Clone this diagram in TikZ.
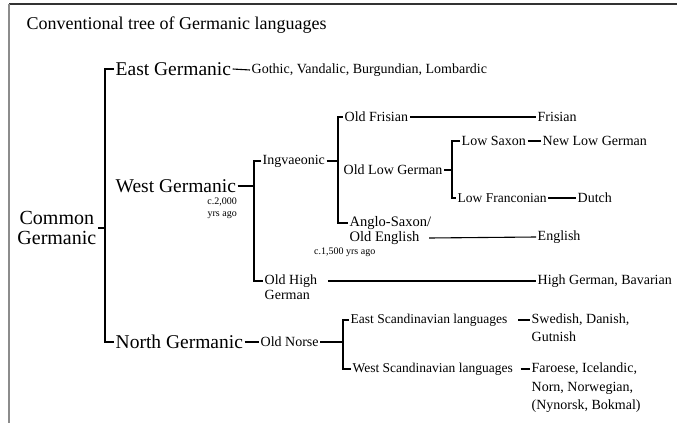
\documentclass[tikz,border=0pt]{standalone}
\usepackage{fontspec}
\setmainfont{LiberationSerif}[Extension=.ttf, UprightFont=*-Regular, BoldFont=*-Bold, ItalicFont=*-Italic, BoldItalicFont=*-BoldItalic]
\usetikzlibrary{positioning,calc}

\begin{document}
\begin{tikzpicture}[x=1pt,y=-1pt,
        every node/.style={anchor=west, inner sep=1.5pt},
        big/.style={font=\fontsize{19.5}{21}\selectfont},
        mid/.style={font=\fontsize{14}{16}\selectfont},
        midsm/.style={font=\fontsize{13.5}{16}\selectfont},
        tiny/.style={font=\fontsize{10}{12}\selectfont, inner sep=0pt},
        branch/.style={line width=1.1pt}]
    \useasboundingbox (0,0) rectangle (677,423);
    % page frame
    \draw[line width=1.8pt, black!80] (9,4) -- (677,4);
    \draw[line width=1.8pt, black!45] (9,4) -- (9,423);

    \node[font=\fontsize{18}{20}\selectfont] (title) at (25,25) {Conventional tree of Germanic languages};

    % bracket columns
    \coordinate (b1) at (105,0);
    \coordinate (b2) at (254,0);
    \coordinate (b3) at (338,0);
    \coordinate (b4) at (452,0);
    \coordinate (b5) at (343,0);

    \node[align=center, anchor=east, font=\fontsize{20}{20}\selectfont] (cg) at (98,228) {Common\\Germanic};

    \node[big] (eg) at (114,69) {East Germanic};
    \node[big] (wg) at (114,186) {West Germanic};
    \node[big] (ng) at (114,342) {North Germanic};
    \node[mid] (egl) at (250,70) {Gothic, Vandalic, Burgundian, Lombardic};
    \node[tiny, align=right, anchor=north east] (wgd) at (237,198) {c.2,000\\yrs ago};

    \draw[branch] (cg.east) -- (cg.east -| b1);
    \draw[branch] (eg.west) -- (eg.west -| b1) -- (ng.west -| b1) -- (ng.west);
    \draw[branch] (eg.east) -- (egl.west);
    \draw[branch] (wg.east) -- (wg.east -| b2);

    % West Germanic
    \node[mid] (ing) at (261,161) {Ingvaeonic};
    \node[mid] (ohg) at (263,281) {Old High};
    \node[mid] (ohgb) at (263,295) {German};
    \node[mid] (hg) at (536,281) {High German, Bavarian};
    \draw[branch] (ing.west) -- (ing.west -| b2) -- (ohg.west -| b2) -- (ohg.west);
    \draw[branch] ([xshift=9pt]ohg.east) -- (hg.west);
    \draw[branch] (ing.east) -- (ing.east -| b3);

    \node[mid] (ofr) at (343,117) {Old Frisian};
    \node[mid] (fri) at (536,117) {Frisian};
    \node[mid] (olg) at (342,170) {Old Low German};
    \node[font=\fontsize{14.5}{16}\selectfont] (as) at (348,223) {Anglo-Saxon/};
    \node[font=\fontsize{14.5}{16}\selectfont] (oe) at (348,238) {Old English};
    \node[mid] (eng) at (536,237) {English};
    \node[tiny] (asd) at (314,252) {c.1,500 yrs ago};
    \draw[branch] (ofr.west) -- (ofr.west -| b3) -- (as.west -| b3) -- (as.west);
    \draw[branch] (ofr.east) -- (fri.west);
    \draw[branch] ([xshift=8pt]oe.east) -- (eng.west);
    \draw[branch] (olg.east) -- (olg.east -| b4);

    \node[mid] (ls) at (460,141) {Low Saxon};
    \node[mid] (nlg) at (541,141) {New Low German};
    \node[midsm] (lf) at (456,198) {Low Franconian};
    \node[mid] (dut) at (576,198) {Dutch};
    \draw[branch] (ls.west) -- (ls.west -| b4) -- (lf.west -| b4) -- (lf.west);
    \draw[branch] (ls.east) -- (nlg.west);
    \draw[branch] (lf.east) -- (dut.west);

    % North Germanic
    \node[mid] (on) at (259,342) {Old Norse};
    \node[midsm] (esc) at (349,320) {East Scandinavian languages};
    \node[midsm] (wsc) at (351,369) {West Scandinavian languages};
    \node[mid] (sdg) at (530,320) {Swedish, Danish,};
    \node[mid] (sdgb) at (530,337) {Gutnish};
    \node[mid] (fic) at (530,369) {Faroese, Icelandic,};
    \node[mid] (fnn) at (530,388) {Norn, Norwegian,};
    \node[mid] (fnb) at (530,406) {(Nynorsk, Bokmal)};
    \draw[branch] (ng.east) -- (on.west);
    \draw[branch] (on.east) -- (on.east -| b5);
    \draw[branch] (esc.west) -- (esc.west -| b5) -- (wsc.west -| b5) -- (wsc.west);
    \draw[branch] ([xshift=9pt]esc.east) -- (sdg.west);
    \draw[branch] ([xshift=6pt]wsc.east) -- (fic.west);
\end{tikzpicture}
\end{document}
